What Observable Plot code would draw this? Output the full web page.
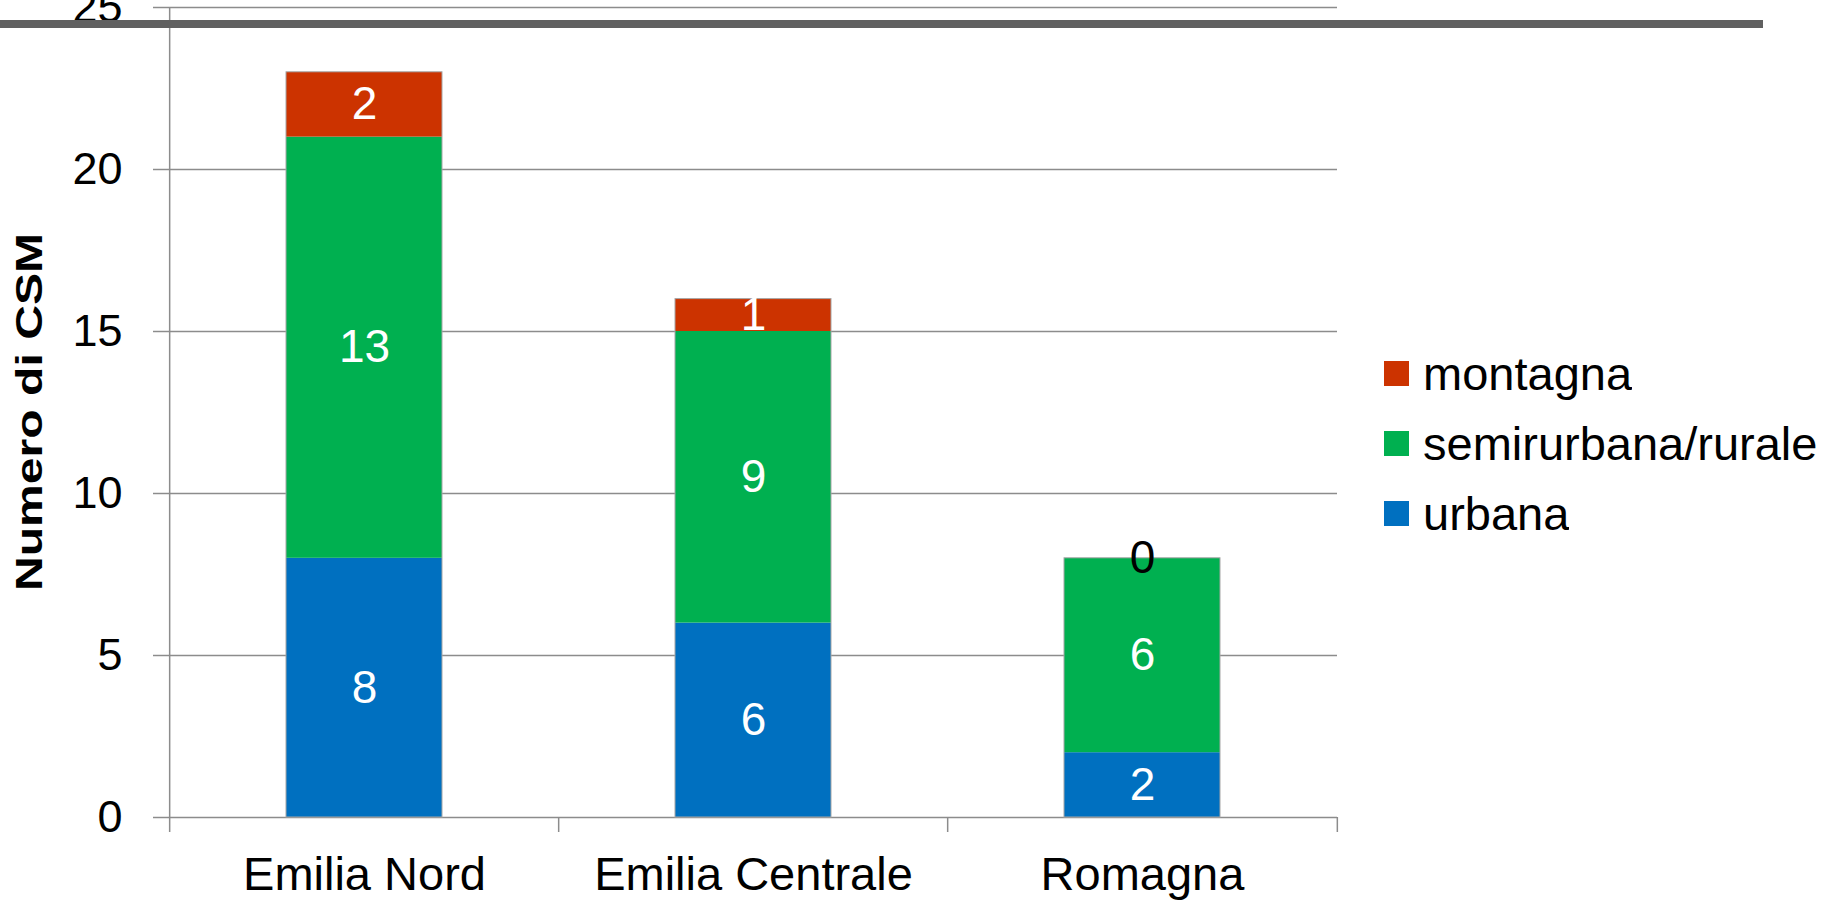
<!DOCTYPE html>
<html><head><meta charset="utf-8">
<script src="https://cdn.jsdelivr.net/npm/d3@7"></script>
<script src="https://cdn.jsdelivr.net/npm/@observablehq/plot@0.6"></script>
<style>
html,body{margin:0;padding:0;background:#fff;}
#wrap{position:relative;width:1843px;height:901px;overflow:hidden;font-family:"Liberation Sans",Arial,sans-serif;}
#topbar{position:absolute;left:0;top:20px;width:1763px;height:8px;background:#606060;z-index:5;}
#legend{position:absolute;left:1384px;top:338px;z-index:4;}
.lg-swatches{font-family:"Liberation Sans",Arial,sans-serif !important;font-size:47px !important;color:#000 !important;margin:0 !important;}
.lg-swatches-columns .lg-swatch{height:70px !important;padding:0 !important;display:flex !important;align-items:center !important;}
.lg-swatch > svg{margin-right:14px !important;}
.lg-swatch-label{white-space:nowrap;}
</style></head><body><div id="wrap"><div id="topbar"></div><div id="legend"></div></div>
<script>
// ---- data ----
const regions = ["Emilia Nord", "Emilia Centrale", "Romagna"];
const types = ["urbana", "semirurbana/rurale", "montagna"]; // stacking order bottom -> top
const urbana = [8, 6, 2];
const semirurbana = [13, 9, 6];
const montagna = [2, 1, 0];
const yTicks = [0, 5, 10, 15, 20, 25];
const legendOrder = ["montagna", "semirurbana/rurale", "urbana"];
const palette = {"montagna": "#CC3300", "semirurbana/rurale": "#00B050", "urbana": "#0070C0"};
const yTitle = "Numero di CSM";

const series = [urbana, semirurbana, montagna];
const data = [];
types.forEach((t, i) => regions.forEach((r, j) => data.push({region: r, type: t, value: series[i][j]})));

// ---- layout ----
const W = 1843, H = 901, mL = 168, mR = 506, mT = 7, mB = 84;
const step = (W - mL - mR) / regions.length;
const font = '"Liberation Sans", Arial, sans-serif';
const gridColor = "#8c8c8c";

const plot = Plot.plot({
  width: W, height: H,
  marginLeft: mL, marginRight: mR, marginTop: mT, marginBottom: mB,
  style: {fontFamily: font, color: "#000", background: "transparent", overflow: "visible"},
  x: {domain: regions, paddingInner: 0.6, paddingOuter: 0.3, label: null},
  y: {domain: [0, 25], label: null},
  color: {domain: legendOrder, range: legendOrder.map(k => palette[k])},
  marks: [
    Plot.gridY(yTicks, {stroke: gridColor, strokeOpacity: 1, strokeWidth: 1.5}),
    Plot.axisY(yTicks, {tickSize: 15, tickPadding: 31, stroke: gridColor, strokeWidth: 1.5, strokeOpacity: 1, fontSize: 45, fill: "#000", label: null}),
    Plot.axisX({tickSize: 0, tickPadding: 39, fontSize: 47, fill: "#000", label: null}),
    // category boundary ticks (left boundary of first band acts as the y axis line)
    Plot.ruleX([regions[0]], {dx: -step / 2, stroke: gridColor, strokeWidth: 1.5, insetBottom: -15}),
    Plot.ruleX(regions.slice(1), {dx: -step / 2, y1: 0, y2: 0, stroke: gridColor, strokeWidth: 1.5, insetBottom: -15}),
    Plot.ruleX([regions[regions.length - 1]], {dx: step / 2, y1: 0, y2: 0, stroke: gridColor, strokeWidth: 1.5, insetBottom: -15}),
    Plot.barY(data, {x: "region", y: "value", fill: "type"}),
    Plot.barY(data, Plot.groupX({y: "sum"}, {x: "region", y: "value", fill: "none", stroke: "#a6a6a6", strokeWidth: 1})),
    Plot.text(data, Plot.stackY({x: "region", y: "value", z: "type", text: d => d.value > 0 ? String(d.value) : "", fill: "#fff", fontSize: 46, fontFamily: font})),
    Plot.text(data, Plot.stackY({x: "region", y: "value", z: "type", text: d => d.value === 0 ? String(d.value) : "", fill: "#000", fontSize: 46, fontFamily: font}))
  ]
});

d3.select(plot).append("text")
  .attr("transform", "translate(42,412) rotate(-90) scale(1.3,1)")
  .attr("text-anchor", "middle")
  .attr("font-family", font)
  .attr("font-weight", "bold")
  .attr("font-size", 37)
  .attr("fill", "#000")
  .text(yTitle);

const wrap = document.getElementById("wrap");
wrap.insertBefore(plot, wrap.firstChild);

const leg = plot.legend("color", {columns: 1, swatchSize: 25, className: "lg"});
document.getElementById("legend").appendChild(leg);
</script>
</body></html>
